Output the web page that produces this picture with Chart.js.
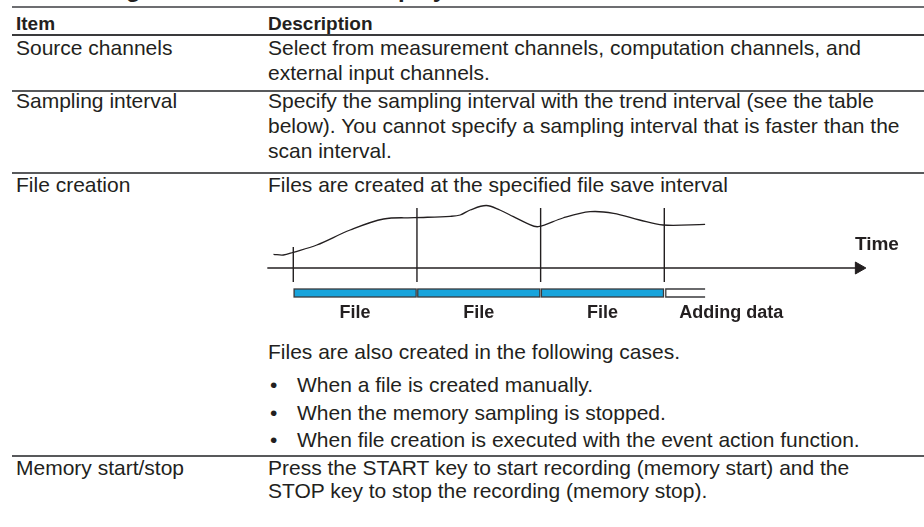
<!DOCTYPE html>
<html>
<head>
<meta charset="utf-8">
<script src="https://cdn.jsdelivr.net/npm/chart.js@4"></script>
<style>
  html, body { margin:0; padding:0; background:#fff; }
  body { width:924px; height:527px; position:relative; overflow:hidden;
         font-family:"Liberation Sans", Arial, Helvetica, sans-serif; color:#231f20; }
  .t { position:absolute; white-space:nowrap; font-size:21px; line-height:20px; }
  .h { position:absolute; white-space:nowrap; font-size:19px; line-height:20px; font-weight:bold; }
  .title { position:absolute; white-space:nowrap; font-size:24px; line-height:28px; font-weight:bold; }
  .rule { position:absolute; left:12px; right:0; }
  #diag { position:absolute; left:250px; top:198px; }
</style>
</head>
<body>
<div class="title" style="left:22px; top:-25px;">Recording Conditions for the Display Data</div>
<div class="rule" style="top:6px; height:2px; background:#6d6e71;"></div>
<div class="h" style="left:16px; top:14px;">Item</div>
<div class="h" style="left:268px; top:14px;">Description</div>
<div class="rule" style="top:34px; height:2px; background:#3a3a3c;"></div>

<div class="t" style="left:16px; top:38px;">Source channels</div>
<div class="t" style="left:268px; top:38px;">Select from measurement channels, computation channels, and</div>
<div class="t" style="left:268px; top:63px;">external input channels.</div>
<div class="rule" style="top:90px; height:2px; background:#58595b;"></div>

<div class="t" style="left:16px; top:91px;">Sampling interval</div>
<div class="t" style="left:268px; top:91px;">Specify the sampling interval with the trend interval (see the table</div>
<div class="t" style="left:268px; top:116px;">below). You cannot specify a sampling interval that is faster than the</div>
<div class="t" style="left:268px; top:141px;">scan interval.</div>
<div class="rule" style="top:172px; height:2px; background:#58595b;"></div>

<div class="t" style="left:16px; top:175px;">File creation</div>
<div class="t" style="left:268px; top:175px;">Files are created at the specified file save interval</div>
<canvas id="diag" width="674" height="130"></canvas>
<div class="t" style="left:268px; top:342px;">Files are also created in the following cases.</div>
<div class="t" style="left:270px; top:375px;">•</div>
<div class="t" style="left:297px; top:375px;">When a file is created manually.</div>
<div class="t" style="left:270px; top:403px;">•</div>
<div class="t" style="left:297px; top:403px;">When the memory sampling is stopped.</div>
<div class="t" style="left:270px; top:430px;">•</div>
<div class="t" style="left:297px; top:430px;">When file creation is executed with the event action function.</div>
<div class="rule" style="top:455px; height:2px; background:#58595b;"></div>

<div class="t" style="left:16px; top:458px;">Memory start/stop</div>
<div class="t" style="left:268px; top:458px;">Press the START key to start recording (memory start) and the</div>
<div class="t" style="left:268px; top:481px;">STOP key to stop the recording (memory stop).</div>

<script>
// ---- data (time in file-save intervals, signal in arbitrary units) ----
const curveTime  = [-0.16, -0.08, 0.00, 0.19, 0.46, 0.73, 0.98, 1.27, 1.35, 1.43, 1.56, 1.67, 1.78, 1.89, 1.98, 2.18, 2.40, 2.59, 2.80, 2.99, 3.33];
const curveValue = [ 1.37,  1.30, 1.57, 2.30, 3.80, 4.90, 5.03, 5.17, 5.30, 5.80, 6.25, 5.80, 5.13, 4.47, 4.13, 5.00, 5.63, 5.47, 4.80, 4.30, 4.37];
const boundaryTimes = [0, 1, 2, 3];
const boundaryTops  = [2.1, 6.0, 6.0, 6.0];
const boundaryBottom = -1.4;
const fileStarts = [0, 1, 2];
const fileEnds   = [1, 2, 3];
const fileLabels = ["File", "File", "File"];
const addingRange = [3, 3.33];
const addingLabel = "Adding data";
const axisRange = [-0.21, 4.63];
const axisLabel = "Time";

const ink = '#231f20';
const datasets = [];
datasets.push({
  label: 'signal',
  data: curveTime.map((t, i) => ({x: t, y: curveValue[i]})),
  showLine: true, borderColor: ink, borderWidth: 1.3, pointRadius: 0, tension: 0.35, fill: false
});
boundaryTimes.forEach((t, i) => {
  datasets.push({
    label: 'b' + i,
    data: [{x: t, y: boundaryTops[i]}, {x: t, y: boundaryBottom}],
    showLine: true, borderColor: ink, borderWidth: 1.4, pointRadius: 0, fill: false
  });
});
datasets.push({
  label: 'axis',
  data: [{x: axisRange[0], y: 0}, {x: axisRange[1] - 0.08, y: 0}],
  showLine: true, borderColor: ink, borderWidth: 1.4, pointRadius: 0, fill: false
});
datasets.push({
  label: 'arrow',
  data: [{x: axisRange[1] - 0.085, y: 0.6}, {x: axisRange[1], y: 0}, {x: axisRange[1] - 0.085, y: -0.6}, {x: axisRange[1] - 0.085, y: 0.6}],
  showLine: true, borderColor: ink, borderWidth: 1, backgroundColor: ink, pointRadius: 0, fill: 'shape'
});

const barsPlugin = {
  id: 'fileBars',
  afterDatasetsDraw(chart) {
    const {ctx, scales: {x, y}} = chart;
    const top = y.getPixelForValue(-2.1), bot = y.getPixelForValue(-2.9);
    ctx.save();
    ctx.lineWidth = 1.3;
    ctx.strokeStyle = '#3a3a3c';
    fileStarts.forEach((s, i) => {
      const x0 = x.getPixelForValue(s) + 0.8, x1 = x.getPixelForValue(fileEnds[i]) - 0.8;
      ctx.fillStyle = '#18a4dc';
      ctx.fillRect(x0, top, x1 - x0, bot - top);
      ctx.strokeRect(x0, top, x1 - x0, bot - top);
    });
    {
      const x0 = x.getPixelForValue(addingRange[0]) + 1.5, x1 = x.getPixelForValue(addingRange[1]);
      ctx.fillStyle = '#fff';
      ctx.fillRect(x0, top, x1 - x0, bot - top);
      ctx.beginPath();
      ctx.moveTo(x1, top); ctx.lineTo(x0, top); ctx.lineTo(x0, bot); ctx.lineTo(x1, bot);
      ctx.stroke();
    }
    ctx.fillStyle = ink;
    ctx.font = 'bold 18px "Liberation Sans", Arial, sans-serif';
    ctx.textBaseline = 'alphabetic';
    ctx.textAlign = 'center';
    const lab = y.getPixelForValue(-5.0);
    fileLabels.forEach((l, i) => {
      ctx.fillText(l, x.getPixelForValue((fileStarts[i] + fileEnds[i]) / 2), lab);
    });
    ctx.textAlign = 'left';
    ctx.fillText(addingLabel, x.getPixelForValue(addingRange[0]) + 15, lab);
    ctx.font = 'bold 19px "Liberation Sans", Arial, sans-serif';
    ctx.fillText(axisLabel, x.getPixelForValue(axisRange[1]) - 11, y.getPixelForValue(1.8));
    ctx.restore();
  }
};

new Chart(document.getElementById('diag'), {
  type: 'scatter',
  data: { datasets },
  options: {
    responsive: false, animation: false, devicePixelRatio: 1,
    layout: { padding: 0 },
    plugins: { legend: { display: false }, tooltip: { enabled: false } },
    scales: {
      x: { type: 'linear', display: false, min: -0.35, max: 5.10 },
      y: { type: 'linear', display: false, min: -6, max: 7 }
    }
  },
  plugins: [barsPlugin]
});
</script>
</body>
</html>
